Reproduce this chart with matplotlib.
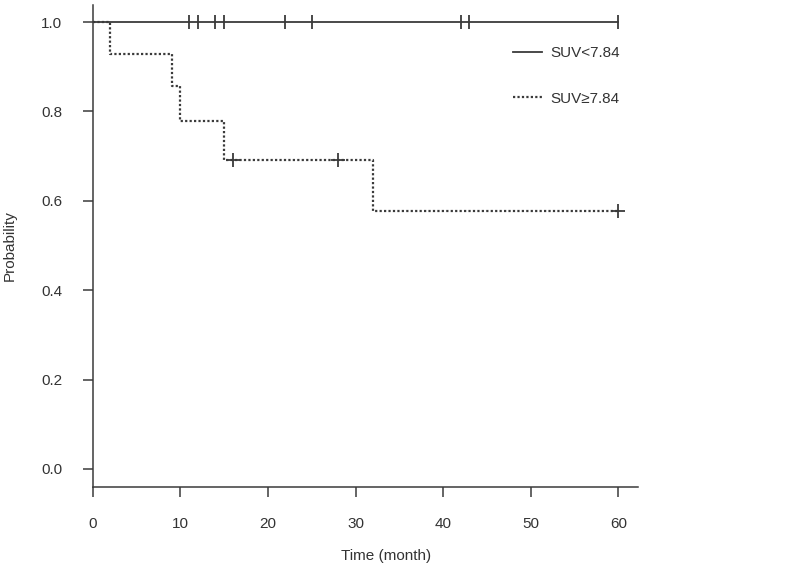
import matplotlib.pyplot as plt

plt.rcParams['font.family'] = ['Liberation Sans', 'DejaVu Sans']

# survival curve data
low_times = [0, 60]
low_surv = [1.0, 1.0]
low_censor = [11, 12, 14, 15, 22, 25, 42, 43, 60]

high_times = [0, 2, 9, 10, 15, 32, 60]
high_surv = [1.0, 0.929, 0.857, 0.778, 0.692, 0.577, 0.577]
high_censor_t = [16, 28, 60]
high_censor_s = [0.692, 0.692, 0.577]

xticks = [0, 10, 20, 30, 40, 50, 60]
yticks = [0.0, 0.2, 0.4, 0.6, 0.8, 1.0]

col = '#3a3a3a'

fig = plt.figure(figsize=(8, 5.7), dpi=100)
ax = fig.add_axes([0.116, 0.146, 0.682, 0.845])

ax.step(low_times, low_surv, where='post', color=col, lw=1.3, label='SUV<7.84')
ax.plot(low_censor, [1.0] * len(low_censor), ls='none', marker='|',
        ms=10, mew=1.3, color=col)

ax.step(high_times, high_surv, where='post', color=col, lw=1.6,
        ls=(0, (1, 1)), label='SUV\u22657.84')
ax.plot(high_censor_t, high_censor_s, ls='none', marker='+',
        ms=10, mew=1.3, color=col)

ax.set_xlim(0, 62.3)
ax.set_ylim(-0.04, 1.038)
ax.set_xticks(xticks)
ax.set_yticks(yticks)
ax.set_yticklabels([f'{v:.1f}' for v in yticks])

for s in ['top', 'right']:
    ax.spines[s].set_visible(False)
for s in ['left', 'bottom']:
    ax.spines[s].set_color(col)
    ax.spines[s].set_linewidth(1.1)

ax.tick_params(axis='both', direction='out', length=7, width=1.1,
               color=col, labelcolor='#333333', labelsize=11, pad=15)

ax.set_xlabel('Time (month)', fontsize=11, color='#333333')
ax.set_ylabel('Probability', fontsize=11, color='#333333')
ax.xaxis.set_label_coords(0.538, -0.13)
ax.yaxis.set_label_coords(-0.14, 0.5)

ax.legend(loc='upper left', bbox_to_anchor=(0.745, 0.943), frameon=False,
          fontsize=11, handlelength=1.9, handletextpad=0.55,
          labelspacing=2.05, labelcolor='#333333')

fig.savefig('out.png', dpi=100)
